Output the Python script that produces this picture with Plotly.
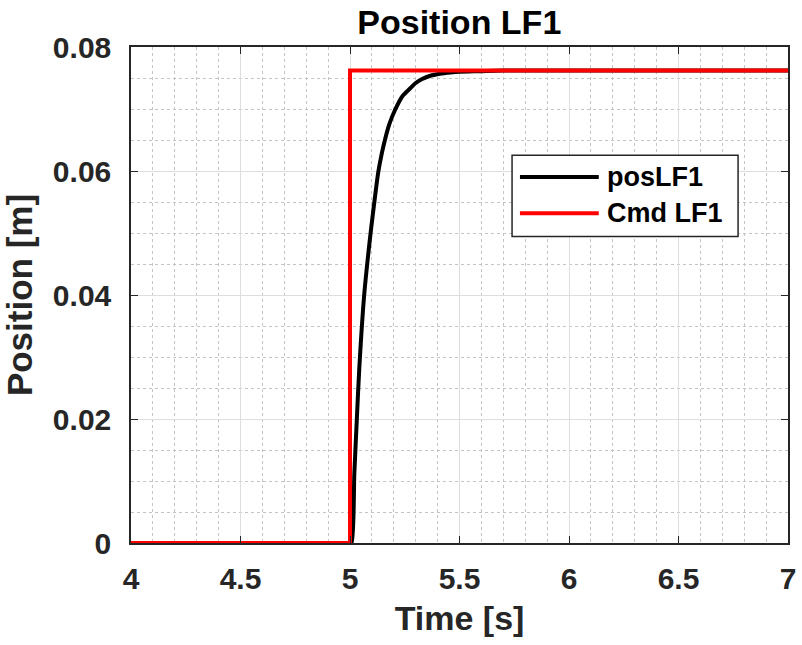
import plotly.graph_objects as go

# Time axis samples [s] and measured position of LF1 [m]
time_pos = [4.0, 5.0, 5.007, 5.02, 5.031, 5.042, 5.064, 5.08, 5.094, 5.114,
            5.129, 5.145, 5.16, 5.18, 5.205, 5.24, 5.274, 5.3, 5.327, 5.37,
            5.41, 5.46, 5.5, 5.6, 5.7, 7.0]
pos_lf1 = [0.0, 0.0, 0.0, 0.0114, 0.0198, 0.0279, 0.0397, 0.0455, 0.0500, 0.0558,
           0.0598, 0.0628, 0.0651, 0.0676, 0.0698, 0.0721, 0.0733, 0.0742, 0.0748, 0.0754,
           0.0757, 0.0759, 0.0760, 0.0761, 0.0762, 0.0762]

# Step command for LF1
time_cmd = [4.0, 5.0, 5.0, 7.0]
cmd_lf1 = [0.0, 0.0, 0.0762, 0.0762]

series_names = ["posLF1", "Cmd LF1"]
x_ticks = [4, 4.5, 5, 5.5, 6, 6.5, 7]
y_ticks = [0, 0.02, 0.04, 0.06, 0.08]

FONT = "Liberation Sans, Arial, Helvetica, sans-serif"
AX = "#262626"

fig = go.Figure()
fig.add_trace(go.Scatter(x=time_pos, y=pos_lf1, mode="lines", name=series_names[0],
                         line=dict(color="black", width=4, shape="spline", smoothing=0.8),
                         showlegend=False))
fig.add_trace(go.Scatter(x=time_cmd, y=cmd_lf1, mode="lines", name=series_names[1],
                         line=dict(color="#ff0000", width=4), showlegend=False))

axis_common = dict(
    showline=True, linecolor=AX, linewidth=1.5, mirror="allticks",
    ticks="inside", ticklen=7, tickwidth=1.2, tickcolor=AX,
    showgrid=True, gridcolor="#dedede", gridwidth=1,
    zeroline=False, automargin=False,
    tickfont=dict(family=FONT, size=30, color=AX, weight="bold"),
)

fig.update_xaxes(
    range=[4, 7], tickvals=x_ticks, ticktext=[f"{v:g}" for v in x_ticks],
    minor=dict(dtick=0.1, showgrid=True, gridcolor="#c4c4c4", griddash="dot", gridwidth=1, ticks=""),
    title=dict(text="Time [s]", font=dict(family=FONT, size=34, color=AX, weight="bold"), standoff=12),
    ticklabelstandoff=8,
    **axis_common,
)
fig.update_yaxes(
    range=[0, 0.08], tickvals=y_ticks, ticktext=[f"{v:g}" for v in y_ticks],
    minor=dict(dtick=0.005, showgrid=True, gridcolor="#c4c4c4", griddash="dot", gridwidth=1, ticks=""),
    title=dict(text="Position [m]", font=dict(family=FONT, size=35, color=AX, weight="bold"), standoff=12),
    ticklabelstandoff=12,
    **axis_common,
)

# Boxed legend in the upper right of the axes
lx0, lx1, ly0, ly1 = 0.58, 0.924, 0.618, 0.782
fig.add_shape(type="rect", xref="paper", yref="paper", x0=lx0, x1=lx1, y0=ly0, y1=ly1,
              line=dict(color=AX, width=1.5), fillcolor="white", layer="above")
legend_rows = [(0.738, "black"), (0.665, "#ff0000")]
for (yy, col), name in zip(legend_rows, series_names):
    fig.add_shape(type="line", xref="paper", yref="paper", x0=0.592, x1=0.712, y0=yy, y1=yy,
                  line=dict(color=col, width=4), layer="above")
    fig.add_annotation(xref="paper", yref="paper", x=0.722, y=yy, text=name, showarrow=False,
                       xanchor="left", yanchor="middle",
                       font=dict(family=FONT, size=27, color="black", weight="bold"))

fig.update_layout(
    width=802, height=645,
    margin=dict(l=131, r=14, t=47, b=102),
    paper_bgcolor="white", plot_bgcolor="white",
    title=dict(text="Position LF1", x=0.5727, xanchor="center", y=0.966, yanchor="middle",
               yref="container",
               font=dict(family=FONT, size=34, color="black", weight="bold")),
)

fig.write_html("out.html")
